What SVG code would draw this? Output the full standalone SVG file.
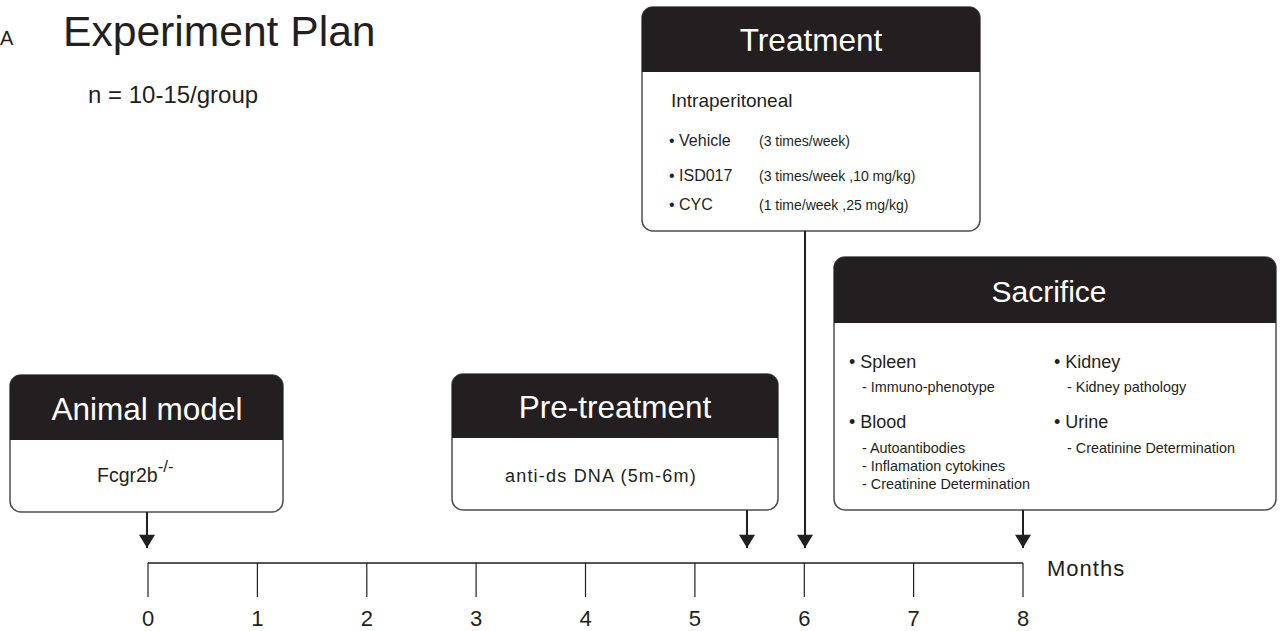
<svg xmlns="http://www.w3.org/2000/svg" width="1282" height="631" viewBox="0 0 1282 631">
<style>
text{font-family:"Liberation Sans",Arial,sans-serif;fill:#231f20}
.hd{fill:#fff;font-size:31.5px;text-anchor:middle}
.box{fill:#fff;stroke:#4d4d4d;stroke-width:1.5}
.head{fill:#231f20}
.ln{stroke:#231f20;stroke-width:2;fill:none}
.ax{stroke:#555;stroke-width:2;fill:none}
.tk{stroke:#231f20;stroke-width:1.2}
.num{font-size:22px;text-anchor:middle}
.b{font-size:18px}
.s{font-size:14.4px}
.t{font-size:14px}
</style>
<defs>
<marker id="ah2" viewBox="0 0 10 12" refX="10" refY="6" markerWidth="17" markerHeight="16" markerUnits="userSpaceOnUse" orient="auto">
<path d="M0,0 L10,6 L0,12 z" fill="#231f20"/>
</marker>
</defs>
<text x="0" y="45" font-size="20">A</text>
<text x="63" y="46" font-size="42.6">Experiment Plan</text>
<text x="88" y="103" font-size="24">n = 10-15/group</text>

<g id="animal-model">
<rect class="box" x="10" y="375" width="273" height="137" rx="11"/>
<path class="head" d="M10,440 V386 a11,11 0 0 1 11,-11 H272 a11,11 0 0 1 11,11 V440 z"/>
<text class="hd" x="147" y="420">Animal model</text>
<text x="97" y="482" font-size="19.5">Fcgr2b<tspan dy="-10" font-size="17">-/-</tspan></text>
</g>

<g id="pre-treatment">
<rect class="box" x="452" y="374" width="326" height="136" rx="11"/>
<path class="head" d="M452,438 V385 a11,11 0 0 1 11,-11 H767 a11,11 0 0 1 11,11 V438 z"/>
<text class="hd" x="615" y="418">Pre-treatment</text>
<text x="505" y="482" font-size="18" letter-spacing="1.2">anti-ds DNA  (5m-6m)</text>
</g>

<g id="treatment">
<rect class="box" x="642" y="7" width="338" height="224" rx="11"/>
<path class="head" d="M642,72 V18 a11,11 0 0 1 11,-11 H969 a11,11 0 0 1 11,11 V72 z"/>
<text class="hd" x="811" y="51">Treatment</text>
<text x="671" y="107" font-size="19">Intraperitoneal</text>
<text x="669" y="146" font-size="16">• Vehicle</text>
<text x="759" y="146" class="t">(3 times/week)</text>
<text x="669" y="181" font-size="16">• ISD017</text>
<text x="759" y="181" class="t">(3 times/week ,10 mg/kg)</text>
<text x="669" y="210" font-size="16">• CYC</text>
<text x="759" y="210" class="t">(1 time/week ,25 mg/kg)</text>
</g>

<g id="sacrifice">
<rect class="box" x="834" y="257" width="442" height="253" rx="11"/>
<path class="head" d="M834,323 V268 a11,11 0 0 1 11,-11 H1265 a11,11 0 0 1 11,11 V323 z"/>
<text class="hd" x="1049" y="302" style="font-size:30px">Sacrifice</text>
<text x="849" y="368" class="b">• Spleen</text>
<text x="862" y="392" class="s">- Immuno-phenotype</text>
<text x="849" y="428" class="b">• Blood</text>
<text x="862" y="453" class="s">- Autoantibodies</text>
<text x="862" y="471" class="s">- Inflamation cytokines</text>
<text x="862" y="489" class="s">- Creatinine Determination</text>
<text x="1054" y="368" class="b">• Kidney</text>
<text x="1067" y="392" class="s">- Kidney pathology</text>
<text x="1054" y="428" class="b">• Urine</text>
<text x="1067" y="453" class="s">- Creatinine Determination</text>
</g>

<g id="timeline">
<line class="ax" x1="148" y1="563" x2="1023" y2="563"/>
<line class="tk" x1="148" y1="563" x2="148" y2="597"/>
<line class="tk" x1="257.4" y1="563" x2="257.4" y2="597"/>
<line class="tk" x1="366.8" y1="563" x2="366.8" y2="597"/>
<line class="tk" x1="476.1" y1="563" x2="476.1" y2="597"/>
<line class="tk" x1="585.5" y1="563" x2="585.5" y2="597"/>
<line class="tk" x1="694.9" y1="563" x2="694.9" y2="597"/>
<line class="tk" x1="804.3" y1="563" x2="804.3" y2="597"/>
<line class="tk" x1="913.6" y1="563" x2="913.6" y2="597"/>
<line class="tk" x1="1023" y1="563" x2="1023" y2="597"/>
<text class="num" x="148" y="626">0</text>
<text class="num" x="257.4" y="626">1</text>
<text class="num" x="366.8" y="626">2</text>
<text class="num" x="476.1" y="626">3</text>
<text class="num" x="585.5" y="626">4</text>
<text class="num" x="694.9" y="626">5</text>
<text class="num" x="804.3" y="626">6</text>
<text class="num" x="913.6" y="626">7</text>
<text class="num" x="1023" y="626">8</text>
<text x="1047" y="576" font-size="22" letter-spacing="1">Months</text>
</g>

<g id="connectors">
<line class="ln" x1="147" y1="512" x2="147" y2="548" marker-end="url(#ah2)"/>
<line class="ln" x1="747" y1="510" x2="747" y2="548" marker-end="url(#ah2)"/>
<line class="ln" x1="805" y1="231" x2="805" y2="548" marker-end="url(#ah2)"/>
<line class="ln" x1="1023" y1="510" x2="1023" y2="548" marker-end="url(#ah2)"/>
</g>
</svg>
